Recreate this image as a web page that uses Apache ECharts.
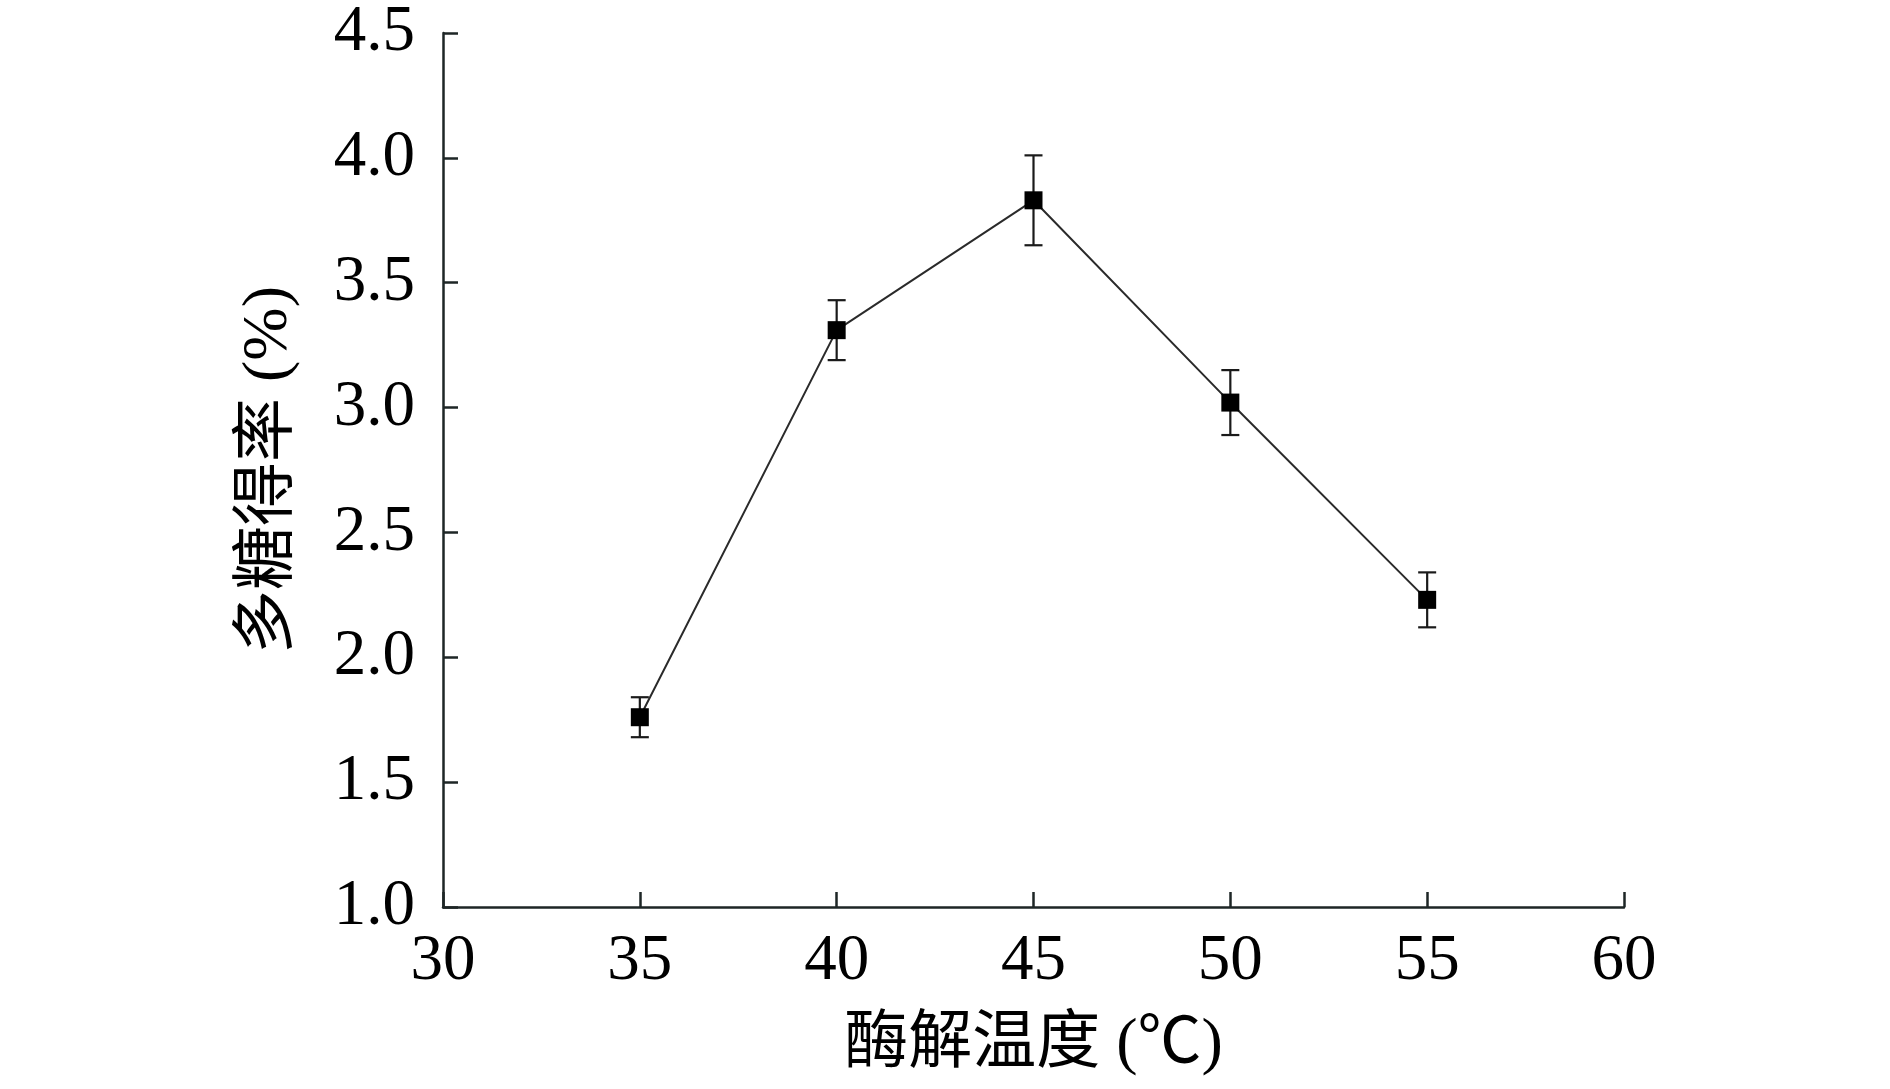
<!DOCTYPE html>
<html>
<head>
<meta charset="utf-8">
<script src="https://cdn.jsdelivr.net/npm/echarts@6/dist/echarts.min.js"></script>
<style>
html,body{margin:0;padding:0;background:#fff;}
#c{width:1890px;height:1089px;}
</style>
</head>
<body>
<div id="c"></div>
<script>
var temps = [35, 40, 45, 50, 55];
var yields = [1.76, 3.31, 3.83, 3.02, 2.23];
var errors = [0.08, 0.12, 0.18, 0.13, 0.11];
var xTicks = [30, 35, 40, 45, 50, 55, 60];
var yTicks = [1.0, 1.5, 2.0, 2.5, 3.0, 3.5, 4.0, 4.5];
var xTitle = '酶解温度 (℃)';
var yTitle = '多糖得率 (%)';

var lineData = temps.map(function (t, i) { return [t, yields[i]]; });
var errData = temps.map(function (t, i) { return [t, yields[i] - errors[i], yields[i] + errors[i]]; });

var serif = '"Liberation Serif", "Times New Roman", "Noto Sans CJK SC", serif';
var axisColor = '#1e2626';

var chart = echarts.init(document.getElementById('c'), null, {renderer: 'canvas'});
chart.setOption({
  animation: false,
  backgroundColor: '#fff',
  grid: {left: 443, right: 266, top: 33, bottom: 182, containLabel: false},
  xAxis: {
    type: 'value', min: 30, max: 60, interval: 5,
    axisLine: {show: true, lineStyle: {color: axisColor, width: 2.5}},
    axisTick: {show: true, inside: true, length: 15, lineStyle: {color: axisColor, width: 2.5}},
    splitLine: {show: false},
    axisLabel: {
      color: '#000', fontFamily: serif, fontSize: 65, margin: 22,
      formatter: function (v) { return xTicks.indexOf(v) >= 0 ? String(v) : ''; }
    },
    name: xTitle, nameLocation: 'middle', nameGap: 106,
    nameTextStyle: {color: '#000', fontFamily: serif, fontSize: 64}
  },
  yAxis: {
    type: 'value', min: 1.0, max: 4.5, interval: 0.5,
    axisLine: {show: true, lineStyle: {color: axisColor, width: 2.5}},
    axisTick: {show: true, inside: true, length: 15, lineStyle: {color: axisColor, width: 2.5}},
    splitLine: {show: false},
    axisLabel: {
      color: '#000', fontFamily: serif, fontSize: 65, margin: 28,
      formatter: function (v) { return v.toFixed(1); }
    },
    name: yTitle, nameLocation: 'middle', nameGap: 142, nameRotate: 90,
    nameTextStyle: {color: '#000', fontFamily: serif, fontSize: 64}
  },
  series: [
    {
      type: 'custom',
      data: errData,
      z: 3,
      renderItem: function (params, api) {
        var x = api.value(0);
        var lo = api.coord([x, api.value(1)]);
        var hi = api.coord([x, api.value(2)]);
        var hw = 9;
        var st = {stroke: '#1a1a1a', lineWidth: 2.2};
        return {
          type: 'group',
          children: [
            {type: 'line', shape: {x1: hi[0], y1: hi[1], x2: lo[0], y2: lo[1]}, style: st},
            {type: 'line', shape: {x1: hi[0] - hw, y1: hi[1], x2: hi[0] + hw, y2: hi[1]}, style: st},
            {type: 'line', shape: {x1: lo[0] - hw, y1: lo[1], x2: lo[0] + hw, y2: lo[1]}, style: st}
          ]
        };
      }
    },
    {
      type: 'line',
      data: lineData,
      z: 4,
      symbol: 'rect',
      symbolSize: 18,
      showAllSymbol: true,
      lineStyle: {color: '#2a2a2a', width: 2},
      itemStyle: {color: '#000', borderWidth: 0}
    }
  ]
});
</script>
</body>
</html>
